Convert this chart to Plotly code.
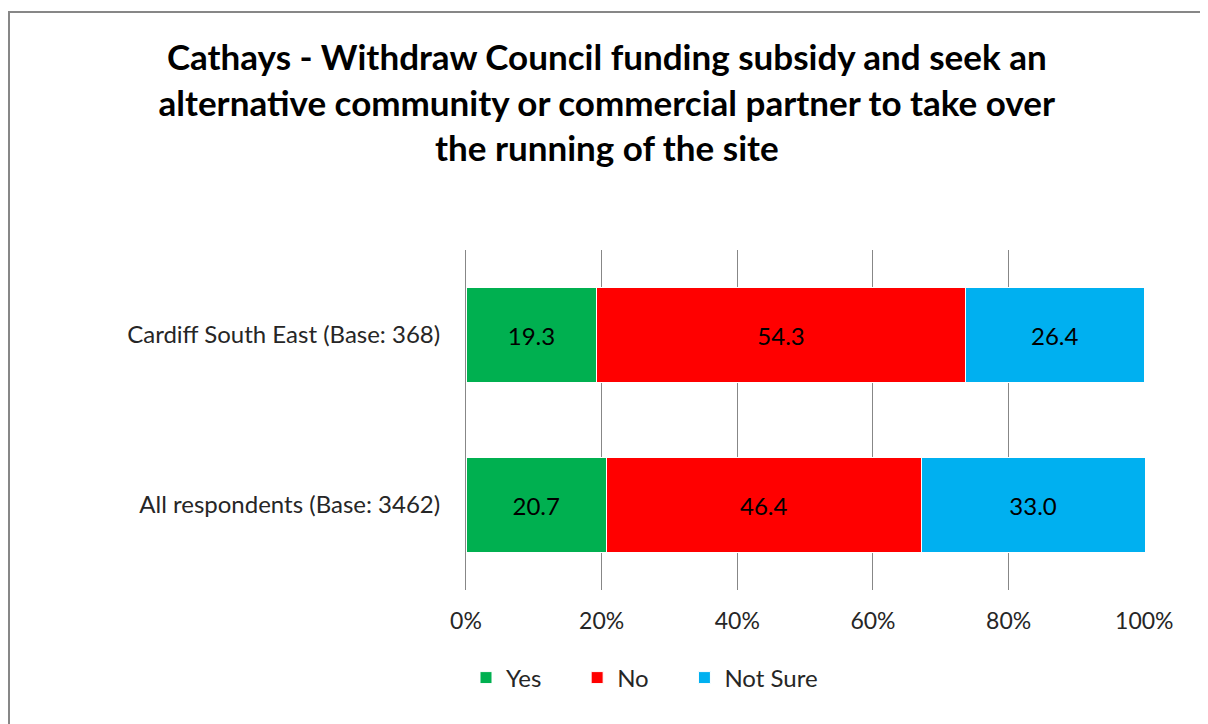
import plotly.graph_objects as go

categories = ["All respondents (Base: 3462)", "Cardiff South East (Base: 368)"]
series_names = ["Yes", "No", "Not Sure"]
yes_values = [20.7, 19.3]
no_values = [46.4, 54.3]
not_sure_values = [33.0, 26.4]
tick_values = [0, 20, 40, 60, 80, 100]
tick_labels = ["0%", "20%", "40%", "60%", "80%", "100%"]

colors = ["#00b050", "#ff0000", "#00b0f0"]
font_name = "Lato, 'Open Sans', sans-serif"
pad = "\u00a0" * 5  # widen the gaps between legend entries

# page body has an 8px margin, so the figure is a bit smaller than the window
W, H = 1200, 716
L, R, T, B = 458, 63, 242, 134
pw, ph = W - L - R, H - T - B

fig = go.Figure()
for i, (name, vals, col) in enumerate(zip(series_names, [yes_values, no_values, not_sure_values], colors)):
    fig.add_trace(go.Bar(
        y=categories, x=vals, orientation="h",
        name=name + (pad if i < len(series_names) - 1 else ""),
        marker=dict(color=col, line=dict(color="white", width=1)),
        text=[f"{v:.1f}" for v in vals], textposition="inside",
        insidetextanchor="middle", textangle=0,
        textfont=dict(color="black", size=24, family=font_name),
    ))

fig.update_layout(
    barmode="stack",
    bargap=0.44,
    width=W, height=H,
    margin=dict(l=L, r=R, t=T, b=B),
    plot_bgcolor="white",
    paper_bgcolor="white",
    font=dict(family=font_name, color="#262626"),
    title=dict(
        text="Cathays - Withdraw Council funding subsidy and seek an<br>"
             "alternative community or commercial partner to take over<br>"
             "the running of the site",
        x=0.499, xanchor="center", y=1 - 62 / H, yanchor="middle",
        font=dict(size=35, color="black", family=font_name, weight="bold"),
    ),
    legend=dict(
        orientation="h", x=0, xanchor="left",
        y=(H - B - 670) / ph, yanchor="middle",
        font=dict(size=24),
        traceorder="normal",
    ),
)
fig.update_xaxes(
    range=[0, 100.1], tickvals=tick_values, ticktext=tick_labels,
    showgrid=True, gridcolor="#878787", gridwidth=1,
    zeroline=False, showline=False,
    tickfont=dict(size=23), ticklabelstandoff=15,
)
fig.update_yaxes(
    showgrid=False, zeroline=False, showline=True, linecolor="#878787",
    tickfont=dict(size=24), ticks="", ticklabelstandoff=20,
)

# outer chart frame, extends past the right and bottom edges
fig.add_shape(
    type="rect", xref="paper", yref="paper",
    x0=(1 - L) / pw, x1=(1230 - L) / pw,
    y0=(H - B - 740) / ph, y1=(H - B - 4) / ph,
    line=dict(color="#878787", width=2), fillcolor="rgba(0,0,0,0)", layer="below",
)

fig.write_html("out.html")
